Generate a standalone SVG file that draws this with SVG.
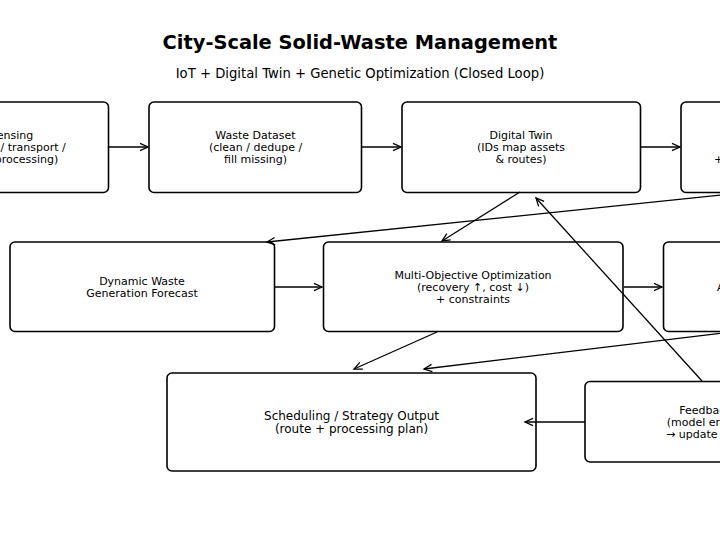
<svg xmlns="http://www.w3.org/2000/svg" width="720" height="540" viewBox="0 0 720 540">
<defs>
<marker id="arr" markerUnits="userSpaceOnUse" markerWidth="12" markerHeight="12" refX="9" refY="5" orient="auto">
<path d="M1,1.3 L9,5 L1,8.7" fill="none" stroke="#000" stroke-width="1.3"/>
</marker>
<style>
.box{fill:#fff;stroke:#000;stroke-width:1.6}
.t{font-family:"DejaVu Sans",Verdana,sans-serif;font-size:11px;fill:#000;text-anchor:middle}
.s{font-size:12px}
.e{text-anchor:end}
.b{text-anchor:start}
.c{fill:none;stroke:#000;stroke-width:1.3;marker-end:url(#arr)}
</style>
</defs>
<rect width="720" height="540" fill="#fff"/>
<text x="360" y="49" style="font-family:'DejaVu Sans',Verdana,sans-serif;font-size:19.4px;font-weight:bold;text-anchor:middle">City-Scale Solid-Waste Management</text>
<text x="360" y="77.5" style="font-family:'DejaVu Sans',Verdana,sans-serif;font-size:13.2px;text-anchor:middle">IoT + Digital Twin + Genetic Optimization (Closed Loop)</text>

<g id="sensing">
<rect class="box" x="-100" y="102" width="208.5" height="90.5" rx="5"/>
<text class="t e" x="33.3" y="139">ensing</text>
<text class="t e" x="65.7" y="151">/ transport /</text>
<text class="t e" x="58.3" y="163">processing)</text>
</g>
<g id="dataset">
<rect class="box" x="149" y="102" width="212.5" height="90.5" rx="5"/>
<text class="t" x="255.5" y="139">Waste Dataset</text>
<text class="t" x="255.5" y="151">(clean / dedupe /</text>
<text class="t" x="255.5" y="163">fill missing)</text>
</g>
<g id="twin">
<rect class="box" x="402" y="102" width="238.5" height="90.5" rx="5"/>
<text class="t" x="521" y="139">Digital Twin</text>
<text class="t" x="521" y="151">(IDs map assets</text>
<text class="t" x="521" y="163">&amp; routes)</text>
</g>
<g id="box4">
<rect class="box" x="681" y="102" width="200" height="90.5" rx="5"/>
<text class="t b" x="714" y="163">+</text>
</g>
<g id="forecast">
<rect class="box" x="10" y="242" width="264.5" height="89.5" rx="5"/>
<text class="t" x="142" y="284.5">Dynamic Waste</text>
<text class="t" x="142" y="296.5">Generation Forecast</text>
</g>
<g id="moo">
<rect class="box" x="323.5" y="242" width="299.5" height="89.5" rx="5"/>
<text class="t" x="473" y="278.5">Multi-Objective Optimization</text>
<text class="t" x="473" y="291">(recovery ↑, cost ↓)</text>
<text class="t" x="473" y="302.5">+ constraints</text>
</g>
<g id="box-right-mid">
<rect class="box" x="663.5" y="242" width="200" height="89.5" rx="5"/>
<text class="t b" x="717" y="291">A</text>
</g>
<g id="scheduling">
<rect class="box" x="167" y="373" width="369" height="98" rx="5"/>
<text class="t s" x="351.5" y="419.5">Scheduling / Strategy Output</text>
<text class="t s" x="351.5" y="432.5">(route + processing plan)</text>
</g>
<g id="feedback">
<rect class="box" x="585" y="381.5" width="200" height="80.5" rx="5"/>
<text class="t b" x="679.3" y="413.5">Feedbac</text>
<text class="t b" x="666.7" y="426">(model er</text>
<text class="t b" x="666" y="437.5">→ update</text>
</g>

<g id="connectors">
<line class="c" x1="109" y1="147" x2="148" y2="147"/>
<line class="c" x1="362" y1="147" x2="401" y2="147"/>
<line class="c" x1="641" y1="147" x2="680" y2="147"/>
<line class="c" x1="740" y1="193" x2="267" y2="242"/>
<line class="c" x1="520" y1="192" x2="442" y2="241"/>
<line class="c" x1="702" y1="381" x2="536" y2="198"/>
<line class="c" x1="275" y1="287" x2="322" y2="287"/>
<line class="c" x1="624" y1="287" x2="662" y2="287"/>
<line class="c" x1="437" y1="332" x2="354" y2="369"/>
<line class="c" x1="740" y1="331" x2="424" y2="369"/>
<line class="c" x1="585" y1="422" x2="525" y2="422"/>
</g>
</svg>
